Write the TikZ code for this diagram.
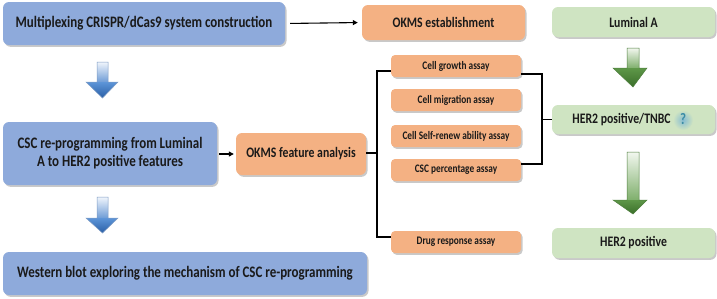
\documentclass[tikz,border=0pt]{standalone}
\usepackage{fontspec}
\setmainfont{Carlito}[FakeStretch=0.81]
\usetikzlibrary{shadows,arrows.meta}
\definecolor{bluebox}{HTML}{8EAADB}
\definecolor{orangebox}{HTML}{F4B183}
\definecolor{greenbox}{HTML}{CFE4C2}
\definecolor{txt}{HTML}{1A1A1A}
\definecolor{qmark}{HTML}{3A8CA6}
\definecolor{qglow}{HTML}{86BCD2}
\definecolor{bst}{HTML}{F0F5FC}
\definecolor{bsb}{HTML}{6E9CD6}
\definecolor{bht}{HTML}{5D95D8}
\definecolor{bhb}{HTML}{2A5FA6}
\definecolor{bln}{HTML}{7F9CC4}
\definecolor{gst}{HTML}{F2F7EF}
\definecolor{gsb}{HTML}{7FAF6C}
\definecolor{ght}{HTML}{5E9748}
\definecolor{ghb}{HTML}{3A6E2A}
\definecolor{gln}{HTML}{4F7F3E}
\begin{document}
\begin{tikzpicture}[x=1pt,y=-1pt,
  box/.style={rounded corners=6pt, inner sep=0pt, align=center, text=txt,
    drop shadow={shadow xshift=1.5pt,shadow yshift=-1.8pt,opacity=0.3,fill=black!70},
    font=\fontsize{16}{18}\selectfont\bfseries},
  bbox/.style={box, fill=bluebox},
  obox/.style={box, fill=orangebox, font=\fontsize{14.5}{17}\selectfont\bfseries},
  gbox/.style={box, fill=greenbox, font=\fontsize{14.5}{17}\selectfont\bfseries},
  sbox/.style={obox, rounded corners=4pt, minimum width=130pt, minimum height=22pt,
    font=\fontsize{11.5}{13}\selectfont\bfseries},
  conn/.style={line width=1.1pt, -{Triangle[length=5pt,width=5pt]}},
  brk/.style={line width=1.5pt},
  blueshaft/.style={top color=bst, bottom color=bsb},
  bluehead/.style={top color=bht, bottom color=bhb},
  blueline/.style={draw=bln, line width=0.5pt},
  greenshaft/.style={top color=gst, bottom color=gsb},
  greenhead/.style={top color=ght, bottom color=ghb},
  greenline/.style={draw=gln, line width=0.5pt}]
\useasboundingbox (0,0) rectangle (717,298);

% boxes
\node[bbox, minimum width=282pt, minimum height=43pt] (mcs) at (144,23.5) {Multiplexing CRISPR/dCas9 system construction};
\node[obox, minimum width=163pt, minimum height=35pt] (oe) at (443.5,22.5) {OKMS establishment};
\node[gbox, minimum width=163pt, minimum height=30pt] (la) at (633.5,22) {Luminal A};
\node[bbox, minimum width=214pt, minimum height=63pt] (csc) at (110,153.5) {CSC re-programming from Luminal\\A to HER2 positive features};
\node[obox, minimum width=130pt, minimum height=42pt] (ofa) at (301,154) {OKMS feature analysis};
\node[bbox, minimum width=364pt, minimum height=43pt] (wb) at (185,273.5) {Western blot exploring the mechanism of CSC re-programming};
\node[sbox] (cg) at (456,66) {Cell growth assay};
\node[sbox] (cm) at (456,100) {Cell migration assay};
\node[sbox] (cs) at (456,136) {Cell Self-renew ability assay};
\node[sbox] (cp) at (456,170) {CSC percentage assay};
\node[sbox] (dr) at (456,242) {Drug response assay};
\node[gbox, minimum width=163pt, minimum height=29pt] (ht) at (633.5,119.5) {HER2 positive/TNBC\hspace{24pt}};
\node[gbox, minimum width=163pt, minimum height=30pt] (hp) at (633.5,243) {HER2 positive};

% question mark with glow
\shade[inner color=qglow, outer color=greenbox] (683,120) circle (10);
\node[text=qmark, font=\fontsize{16}{18}\selectfont\bfseries] (q) at (683,119.5) {?};

% connectors
\draw[conn, shorten <=5pt, shorten >=4pt] (mcs.east) -- (oe.west);
\draw[conn, shorten <=2pt, shorten >=2pt] (csc.east |- ofa.west) -- (ofa.west);

% left bracket
\coordinate (lb) at (377,153);
\draw[brk] (ofa.east |- lb) -- (lb);
\draw[brk] (cg.west |- 0,71) -- (377,71) -- (377,237) -- (dr.west |- 0,237);

% right bracket
\draw[brk] (cg.east |- 0,74) -- (542,74) -- (542,164) -- (cp.east |- 0,164);
\draw[brk] (542,119.5) -- (ht.west);

% blue block arrows
\shade[blueshaft] (97,62) rectangle (108,82);
\shade[bluehead] (86,82) -- (118,82) -- (102.5,98) -- cycle;
\draw[blueline] (97,62) -- (108,62) -- (108,82) -- (118,82) -- (102.5,98) -- (86,82) -- (97,82) -- cycle;

\shade[blueshaft] (97,197) rectangle (108,218);
\shade[bluehead] (86,218) -- (118,218) -- (102.5,233) -- cycle;
\draw[blueline] (97,197) -- (108,197) -- (108,218) -- (118,218) -- (102.5,233) -- (86,218) -- (97,218) -- cycle;

% green block arrows
\shade[greenshaft] (627,48) rectangle (639,68);
\shade[greenhead] (613,68) -- (647,68) -- (633,87) -- cycle;
\draw[greenline] (627,48) -- (639,48) -- (639,68) -- (647,68) -- (633,87) -- (613,68) -- (627,68) -- cycle;

\shade[greenshaft] (627,152) rectangle (639,200);
\shade[greenhead] (613,200) -- (647,200) -- (633,214) -- cycle;
\draw[greenline] (627,152) -- (639,152) -- (639,200) -- (647,200) -- (633,214) -- (613,200) -- (627,200) -- cycle;
\end{tikzpicture}
\end{document}
